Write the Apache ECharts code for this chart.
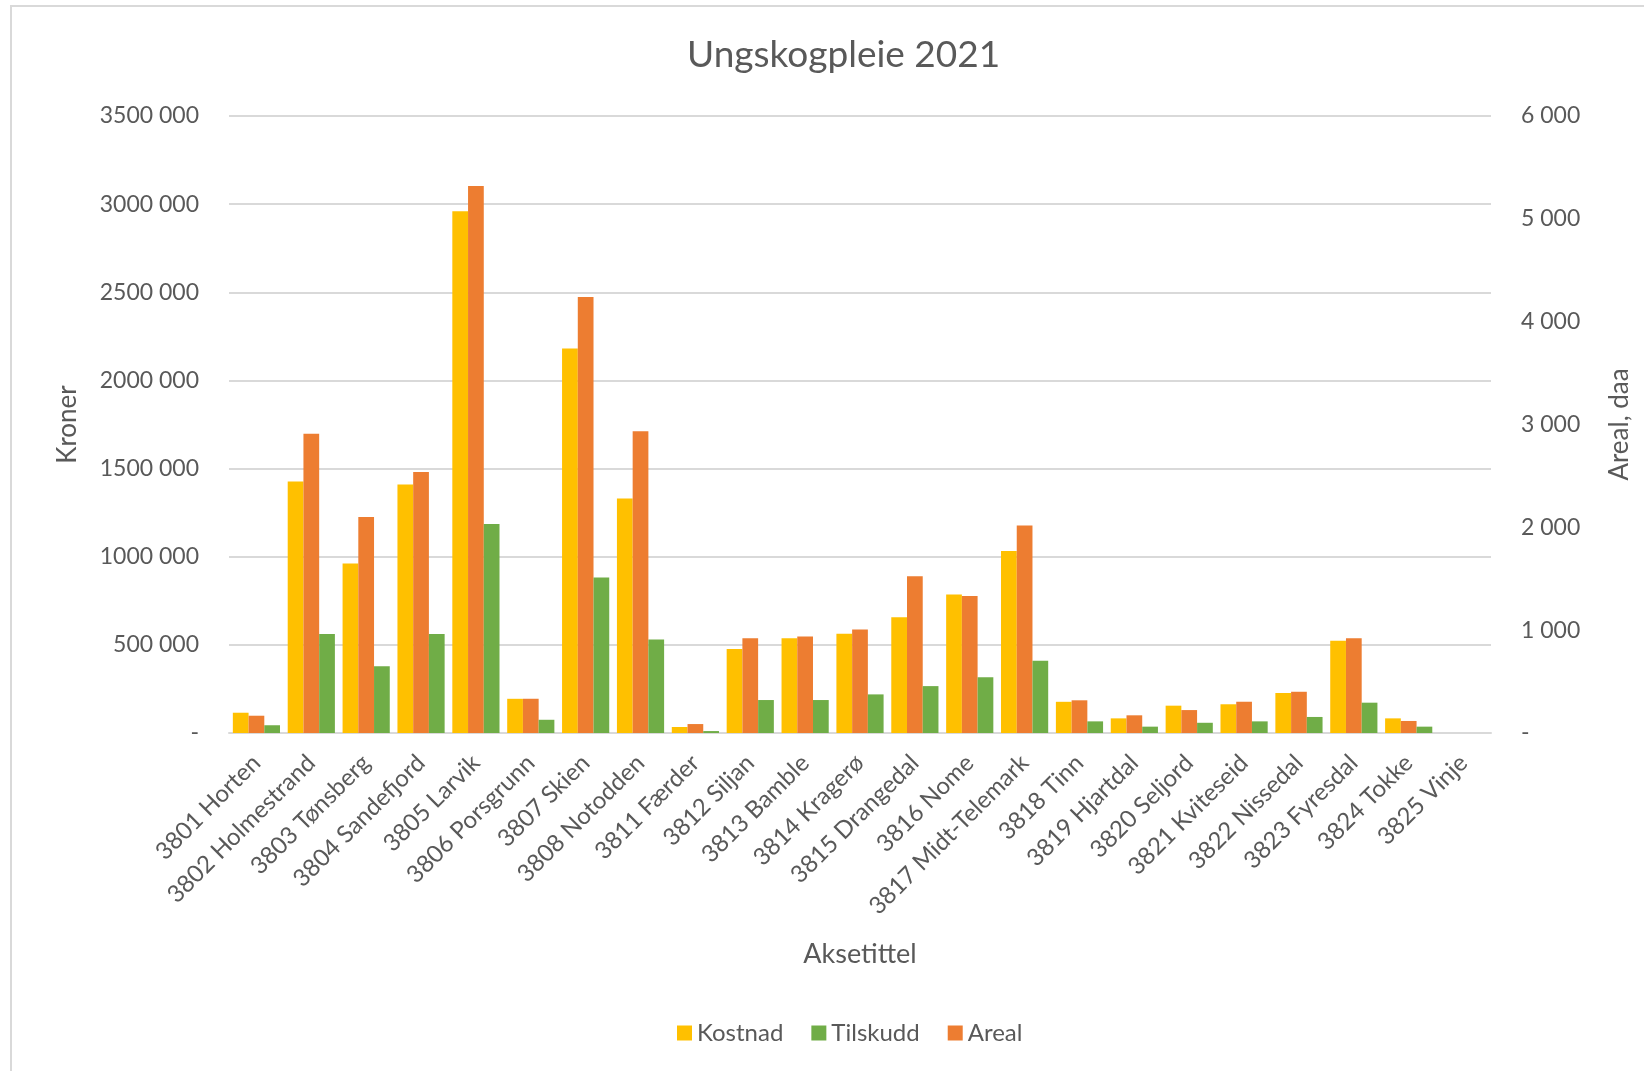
<!DOCTYPE html>
<html>
<head>
<meta charset="utf-8">
<script src="https://cdn.jsdelivr.net/npm/echarts@6/dist/echarts.min.js"></script>
<style>
  html, body { margin: 0; padding: 0; background: #fff; }
  #main { width: 1644px; height: 1071px; }
</style>
</head>
<body>
<div id="main"></div>
<script>
var kommuner = ['3801 Horten', '3802 Holmestrand', '3803 Tønsberg', '3804 Sandefjord', '3805 Larvik',
    '3806 Porsgrunn', '3807 Skien', '3808 Notodden', '3811 Færder', '3812 Siljan', '3813 Bamble',
    '3814 Kragerø', '3815 Drangedal', '3816 Nome', '3817 Midt-Telemark', '3818 Tinn', '3819 Hjartdal',
    '3820 Seljord', '3821 Kviteseid', '3822 Nissedal', '3823 Fyresdal', '3824 Tokke', '3825 Vinje'];

// kroner
var kostnad = [115000, 1426000, 961000, 1409000, 2959000, 194000, 2181000, 1330000, 34000, 476000, 538000,
    563000, 657000, 786000, 1033000, 177000, 83000, 155000, 163000, 227000, 523000, 83000, 0];
var tilskudd = [44000, 561000, 378000, 561000, 1186000, 75000, 882000, 531000, 11000, 187000, 187000,
    219000, 266000, 316000, 410000, 66000, 36000, 58000, 66000, 91000, 172000, 36000, 0];
// daa
var areal = [168, 2910, 2100, 2537, 5320, 333, 4240, 2935, 87, 922, 939,
    1007, 1524, 1333, 2017, 318, 172, 223, 304, 401, 922, 117, 0];

var gridColor = '#D9D9D9';
var textColor = '#595959';
var font = 'Lato, "Open Sans", sans-serif';

function tall(v) {
    if (v === 0) return '-';
    var t = Math.floor(v / 1000);
    var r = String(v % 1000).padStart(3, '0');
    return t + ' ' + r;
}

var myChart = echarts.init(document.getElementById('main'));
var option = {
    backgroundColor: '#fff',
    textStyle: { fontFamily: font },
    title: {
        text: 'Ungskogpleie 2021',
        left: 682,
        top: 32,
        textStyle: { color: textColor, fontSize: 37, fontWeight: 'normal', fontFamily: font }
    },
    legend: {
        data: ['Kostnad', 'Tilskudd', 'Areal'],
        bottom: 21,
        left: 672,
        icon: 'rect',
        itemWidth: 15,
        itemHeight: 15,
        itemGap: 28,
        textStyle: { color: textColor, fontSize: 24, fontFamily: font }
    },
    graphic: [{
        type: 'rect',
        shape: { x: 11, y: 6, width: 1660, height: 1100 },
        style: { fill: 'none', stroke: gridColor, lineWidth: 2 },
        silent: true
    }],
    grid: { left: 229, right: 153, top: 116, bottom: 338 },
    xAxis: {
        type: 'category',
        data: kommuner,
        name: 'Aksetittel',
        nameLocation: 'middle',
        nameGap: 208,
        nameTextStyle: { color: textColor, fontSize: 27, fontFamily: font },
        axisLine: { lineStyle: { color: gridColor, width: 2 } },
        axisTick: { show: false },
        axisLabel: { rotate: 45, color: textColor, fontSize: 24, margin: 26, interval: 0, fontFamily: font }
    },
    yAxis: [
        {
            type: 'value',
            min: 0,
            max: 3500000,
            interval: 500000,
            name: 'Kroner',
            nameLocation: 'middle',
            nameGap: 148,
            nameRotate: 90,
            nameTextStyle: { color: textColor, fontSize: 26, fontFamily: font },
            axisLabel: { color: textColor, fontSize: 23, margin: 30, formatter: tall, fontFamily: font },
            splitLine: { lineStyle: { color: gridColor, width: 2 } }
        },
        {
            type: 'value',
            min: 0,
            max: 6000,
            interval: 1000,
            name: 'Areal, daa',
            nameLocation: 'middle',
            nameGap: 116,
            nameRotate: 90,
            nameTextStyle: { color: textColor, fontSize: 26, fontFamily: font },
            axisLabel: { color: textColor, fontSize: 23, margin: 30, formatter: tall, fontFamily: font },
            splitLine: { show: false }
        }
    ],
    series: [
        {
            name: 'Kostnad',
            type: 'bar',
            yAxisIndex: 0,
            barGap: '0%',
            barCategoryGap: '14%',
            itemStyle: { color: '#FFC000' },
            data: kostnad
        },
        {
            name: 'Areal',
            type: 'bar',
            yAxisIndex: 1,
            itemStyle: { color: '#ED7D31' },
            data: areal
        },
        {
            name: 'Tilskudd',
            type: 'bar',
            yAxisIndex: 0,
            itemStyle: { color: '#70AD47' },
            data: tilskudd
        }
    ]
};
myChart.setOption(option);
</script>
</body>
</html>
